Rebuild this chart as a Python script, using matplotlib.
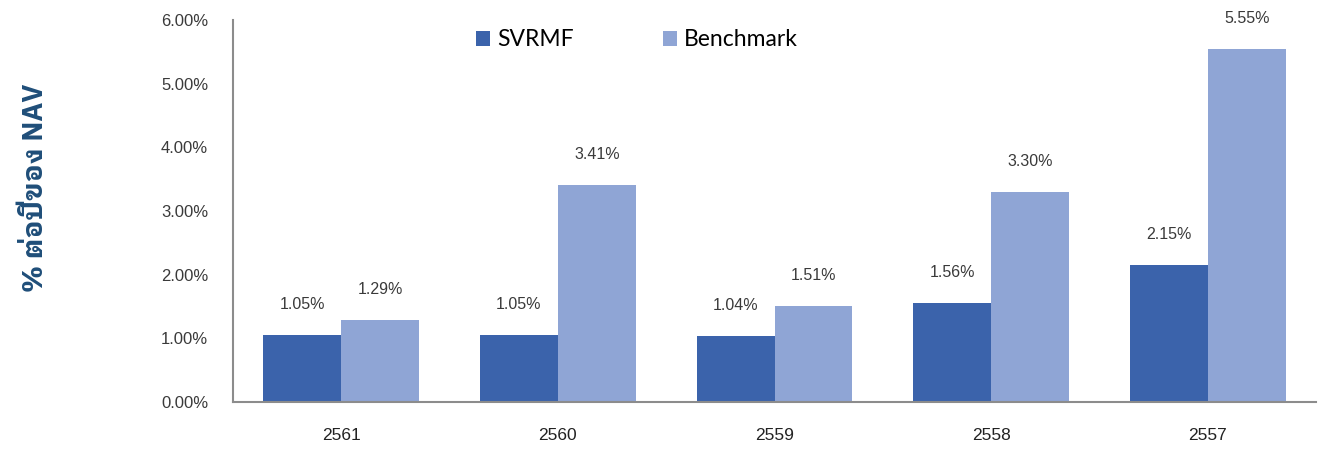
"""Expense ratio per year: SVRMF vs benchmark, % of NAV."""

import numpy as np
import matplotlib

matplotlib.use("Agg")

import matplotlib.pyplot as plt
from matplotlib.ticker import FuncFormatter


YEARS = ["2561", "2560", "2559", "2558", "2557"]
SVRMF = [1.05, 1.05, 1.04, 1.56, 2.15]
BENCHMARK = [1.29, 3.41, 1.51, 3.30, 5.55]
SERIES_NAMES = ["SVRMF", "Benchmark"]
Y_LABEL = "% ต่อปีของ NAV"

COLORS = ["#3B63AB", "#8FA5D5"]
TEXT = "#3A3A3A"
LABEL_BLUE = "#1F4E79"

plt.rcParams["font.family"] = ["Liberation Sans", "DejaVu Sans"]


def main() -> None:
    fig = plt.figure(figsize=(13.18, 4.57), dpi=100)
    ax = fig.add_axes([0.1768, 0.1204, 0.8217, 0.8358])

    x = np.arange(len(YEARS))
    width = 0.36
    for i, (vals, name) in enumerate(zip([SVRMF, BENCHMARK], SERIES_NAMES)):
        pos = x + (i - 0.5) * width
        ax.bar(pos, vals, width=width, color=COLORS[i], label=name, zorder=2)
        for px, v in zip(pos, vals):
            ax.annotate(f"{v:.2f}%", (px, v), xytext=(0, 22), textcoords="offset points",
                        ha="center", va="center", fontsize=11.5, color=TEXT)

    ax.set_xlim(-0.5, len(YEARS) - 0.5)
    ax.set_ylim(0, 6)
    ax.set_yticks(np.arange(0, 7, 1))
    ax.yaxis.set_major_formatter(FuncFormatter(lambda v, _: f"{v:.2f}%"))
    ax.set_xticks(x)
    ax.set_xticklabels(YEARS)
    ax.tick_params(axis="x", length=0, pad=19, labelsize=12.5, labelcolor="#222222")
    ax.tick_params(axis="y", length=0, pad=18, labelsize=12, labelcolor=TEXT)

    for side in ("top", "right"):
        ax.spines[side].set_visible(False)
    for side in ("left", "bottom"):
        ax.spines[side].set_color("#8C8C8C")
        ax.spines[side].set_linewidth(1.5)

    ax.legend(loc="upper left", bbox_to_anchor=(0.205, 1.03), ncol=2, frameon=False,
              handlelength=0.62, handleheight=0.62, columnspacing=3.9,
              handletextpad=0.3, prop={"family": ["Lato", "DejaVu Sans"], "size": 16.5})

    fig.text(0.027, 1 - 188 / 457, Y_LABEL, rotation=90, ha="center", va="center",
             fontsize=20, fontweight="bold", color=LABEL_BLUE,
             family=["IBM Plex Sans Thai Looped", "DejaVu Sans"])

    fig.savefig("out.png", dpi=100, facecolor="white")
    plt.close(fig)


if __name__ == "__main__":
    main()
